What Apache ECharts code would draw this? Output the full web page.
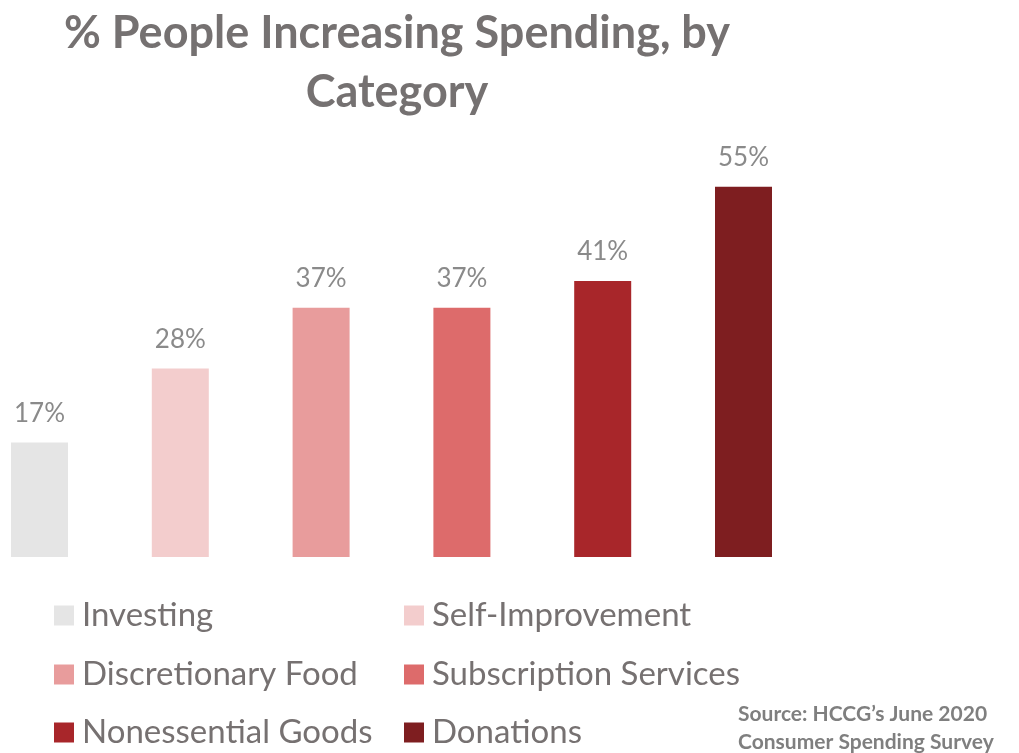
<!DOCTYPE html>
<html>
<head>
<meta charset="utf-8">
<script src="https://cdn.jsdelivr.net/npm/echarts@6/dist/echarts.min.js"></script>
<style>
  html, body { margin: 0; padding: 0; background: #ffffff; }
  #chart { width: 1019px; height: 753px; }
</style>
</head>
<body>
<div id="chart"></div>
<script>
// Share of people increasing spending, per category (%)
const categories = ['Investing', 'Self-Improvement', 'Discretionary Food', 'Subscription Services', 'Nonessential Goods', 'Donations'];
const values = [17, 28, 37, 37, 41, 55];
const colors = ['#e5e5e5', '#f3cdcd', '#e89c9c', '#dd6b6b', '#a8262a', '#7e1e20'];

const FONT = 'Lato, "Open Sans", sans-serif';

// one series per category so each gets its own legend entry
const series = categories.map((name, i) => ({
  name: name,
  type: 'bar',
  barWidth: 57,
  barGap: '-100%',
  itemStyle: { color: colors[i] },
  label: {
    show: true,
    position: 'top',
    distance: 16,
    formatter: p => p.value + '%',
    fontFamily: FONT,
    fontSize: 26,
    color: '#8a8a8a'
  },
  data: values.map((v, j) => (j === i ? v : '-'))
}));

// legend laid out as two columns, three rows
const legendPos = [
  [54, 599], [404, 599],
  [54, 658], [404, 658],
  [54, 716], [404, 716]
];
const legends = categories.map((name, i) => ({
  data: [name],
  left: legendPos[i][0],
  top: legendPos[i][1],
  icon: 'rect',
  itemWidth: 20,
  itemHeight: 20,
  padding: 0,
  selectedMode: false,
  textStyle: { fontFamily: FONT, fontSize: 33, color: '#767171', padding: [0, 0, 0, 3] }
}));

const chart = echarts.init(document.getElementById('chart'), null, { renderer: 'canvas' });
chart.setOption({
  backgroundColor: '#ffffff',
  animation: false,
  title: {
    text: '% People Increasing Spending, by\nCategory',
    left: 392,
    top: -1,
    textAlign: 'center',
    textStyle: {
      fontFamily: FONT,
      fontSize: 45,
      fontWeight: 'bold',
      color: '#757171',
      lineHeight: 59,
      align: 'center'
    }
  },
  legend: legends,
  // first and last category sit on the grid edges
  grid: { left: 39.5, width: 704, top: 153, bottom: 196 },
  xAxis: {
    type: 'category',
    data: categories,
    boundaryGap: false,
    show: false
  },
  yAxis: {
    type: 'value',
    min: 0,
    max: 60,
    show: false
  },
  graphic: [{
    type: 'text',
    left: 738,
    top: 700,
    style: {
      text: 'Source: HCCG\u2019s June 2020\nConsumer Spending Survey',
      fontFamily: FONT,
      fontSize: 21,
      fontWeight: 'bold',
      lineHeight: 28,
      fill: '#7f7f7f'
    }
  }],
  series: series
});
</script>
</body>
</html>
